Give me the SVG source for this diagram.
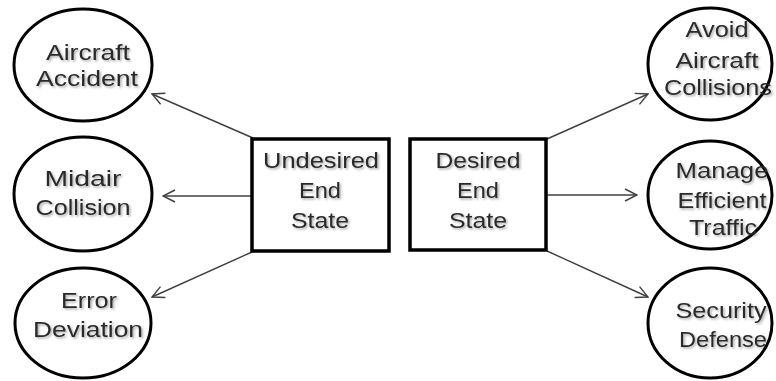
<svg xmlns="http://www.w3.org/2000/svg" width="776" height="381" viewBox="0 0 776 381">
<defs>
<marker id="arr" viewBox="0 0 14 14" refX="13" refY="7" markerWidth="14" markerHeight="14" markerUnits="userSpaceOnUse" orient="auto">
<path d="M1,1 L13,7 L1,13" fill="none" stroke="#404040" stroke-width="1.4"/>
</marker>
<filter id="sh" x="-10%" y="-30%" width="130%" height="170%">
<feDropShadow dx="1.5" dy="1.5" stdDeviation="1.2" flood-color="#000" flood-opacity="0.35"/>
</filter>
</defs>
<style>
.el{fill:#fff;stroke:#000;stroke-width:3}
.bx{fill:#fff;stroke:#000;stroke-width:3.5}
.t{font-family:"Liberation Sans","Open Sans",sans-serif;font-size:22px;fill:#2a2a2a;text-anchor:middle;filter:url(#sh)}
.c{fill:none;stroke:#404040;stroke-width:1.4;marker-end:url(#arr)}
</style>
<g id="connectors">
<line class="c" x1="253" y1="138" x2="152" y2="94"/>
<line class="c" x1="252" y1="196" x2="163" y2="196"/>
<line class="c" x1="252" y1="252" x2="152" y2="297"/>
<line class="c" x1="547" y1="139" x2="648" y2="94"/>
<line class="c" x1="546" y1="195" x2="637" y2="195"/>
<line class="c" x1="547" y1="251" x2="648" y2="297"/>
</g>
<g id="aircraft-accident">
<ellipse class="el" cx="83" cy="65" rx="69" ry="56"/>
<text class="t" x="88" y="60" textLength="84" lengthAdjust="spacingAndGlyphs">Aircraft</text>
<text class="t" x="87" y="86" textLength="102" lengthAdjust="spacingAndGlyphs">Accident</text>
</g>
<g id="midair-collision">
<ellipse class="el" cx="83" cy="194" rx="69" ry="57"/>
<text class="t" x="83" y="186" textLength="77" lengthAdjust="spacingAndGlyphs">Midair</text>
<text class="t" x="83" y="215" textLength="95" lengthAdjust="spacingAndGlyphs">Collision</text>
</g>
<g id="error-deviation">
<ellipse class="el" cx="83" cy="323" rx="68" ry="55"/>
<text class="t" x="89" y="308" textLength="56" lengthAdjust="spacingAndGlyphs">Error</text>
<text class="t" x="88" y="337" textLength="110" lengthAdjust="spacingAndGlyphs">Deviation</text>
</g>
<g id="undesired-end-state">
<rect class="bx" x="252" y="139" width="137" height="112"/>
<text class="t" x="321" y="168" textLength="116" lengthAdjust="spacingAndGlyphs">Undesired</text>
<text class="t" x="320" y="198" textLength="42" lengthAdjust="spacingAndGlyphs">End</text>
<text class="t" x="320" y="228" textLength="58" lengthAdjust="spacingAndGlyphs">State</text>
</g>
<g id="desired-end-state">
<rect class="bx" x="410" y="139" width="136" height="111"/>
<text class="t" x="478" y="168" textLength="85" lengthAdjust="spacingAndGlyphs">Desired</text>
<text class="t" x="478" y="198" textLength="42" lengthAdjust="spacingAndGlyphs">End</text>
<text class="t" x="478" y="228" textLength="58" lengthAdjust="spacingAndGlyphs">State</text>
</g>
<g id="avoid-aircraft-collisions">
<ellipse class="el" cx="710" cy="64" rx="62" ry="56"/>
<text class="t" x="717" y="37" textLength="63" lengthAdjust="spacingAndGlyphs">Avoid</text>
<text class="t" x="717" y="68" textLength="83" lengthAdjust="spacingAndGlyphs">Aircraft</text>
<text class="t" x="718" y="95" textLength="108" lengthAdjust="spacingAndGlyphs">Collisions</text>
</g>
<g id="manage-efficient-traffic">
<ellipse class="el" cx="710" cy="195" rx="62" ry="54"/>
<text class="t" x="722" y="178" textLength="93" lengthAdjust="spacingAndGlyphs">Manage</text>
<text class="t" x="722" y="208" textLength="89" lengthAdjust="spacingAndGlyphs">Efficient</text>
<text class="t" x="723" y="235" textLength="68" lengthAdjust="spacingAndGlyphs">Traffic</text>
</g>
<g id="security-defense">
<ellipse class="el" cx="710" cy="323" rx="62" ry="55"/>
<text class="t" x="721" y="318" textLength="91" lengthAdjust="spacingAndGlyphs">Security</text>
<text class="t" x="723" y="347" textLength="88" lengthAdjust="spacingAndGlyphs">Defense</text>
</g>
</svg>
